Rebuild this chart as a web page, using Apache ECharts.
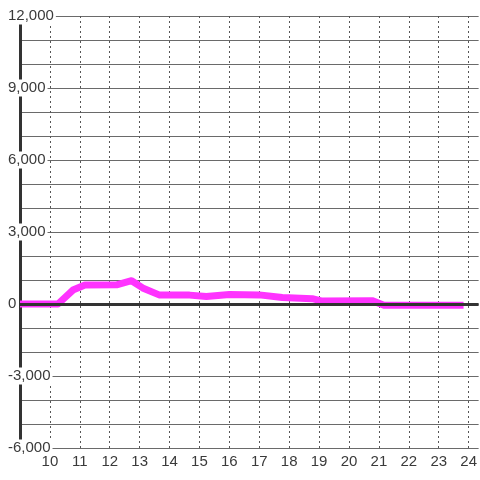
<!DOCTYPE html>
<html>
<head>
<meta charset="utf-8">
<script src="https://cdn.jsdelivr.net/npm/echarts@6/dist/echarts.min.js"></script>
<style>
  html, body { margin: 0; padding: 0; background: #fff; }
  #chart { width: 480px; height: 480px; }
</style>
</head>
<body>
<div id="chart"></div>
<script>
// hour of day / value pairs
const hours = [9.0, 10.27, 10.77, 11.17, 12.23, 12.73, 13.1, 13.67, 14.67, 15.23, 16.0, 17.0, 17.77, 18.77, 19.07, 20.77, 21.17, 23.83]
const values = [0, 0, 580, 790, 800, 970, 670, 370, 370, 310, 400, 380, 270, 220, 130, 140, -50, -50]

const xMin = 9
const xMax = 24.333
const yMin = -6000
const yMax = 12000

const chart = echarts.init(document.getElementById('chart'))

const fmtY = v => {
  if (v % 3000 !== 0) return ''
  return '{b|' + v.toLocaleString('en-US') + '}'
}

const option = {
  animation: false,
  backgroundColor: '#fff',
  grid: { left: 20, right: 0, top: 16, bottom: 32 },
  xAxis: {
    type: 'value',
    min: xMin,
    max: xMax,
    interval: 1,
    axisLine: { show: false },
    axisTick: { show: false },
    axisLabel: {
      showMinLabel: false,
      showMaxLabel: false,
      color: '#3a3a3a',
      fontFamily: 'Liberation Sans',
      fontSize: 15,
      margin: 6
    },
    splitLine: {
      show: true,
      showMinLine: false,
      showMaxLine: false,
      lineStyle: { color: '#555', type: [2, 3], width: 1 }
    }
  },
  yAxis: {
    type: 'value',
    min: yMin,
    max: yMax,
    interval: 1000,
    axisLine: { show: true, onZero: false, lineStyle: { color: '#333', width: 3 } },
    axisTick: { show: false },
    axisLabel: {
      formatter: fmtY,
      align: 'left',
      margin: 14,
      color: '#3a3a3a',
      fontFamily: 'Liberation Sans',
      fontSize: 15,
      rich: {
        b: {
          color: '#3a3a3a',
          fontFamily: 'Liberation Sans',
          fontSize: 15,
          backgroundColor: '#fff',
          padding: [1, 2]
        }
      }
    },
    splitLine: {
      show: true,
      lineStyle: { color: '#6a6a6a', width: 1 }
    }
  },
  series: [
    {
      type: 'line',
      data: [],
      z: 1,
      silent: true,
      markLine: {
        silent: true,
        symbol: 'none',
        label: { show: false },
        lineStyle: { color: '#333', width: 3, type: 'solid' },
        data: [{ yAxis: 0 }]
      }
    },
    {
      type: 'line',
      z: 3,
      data: hours.map((h, i) => [h, values[i]]),
      showSymbol: false,
      symbol: 'none',
      lineStyle: { color: '#ff33ff', width: 7, join: 'round', cap: 'butt' }
    }
  ]
}

chart.setOption(option)
</script>
</body>
</html>
